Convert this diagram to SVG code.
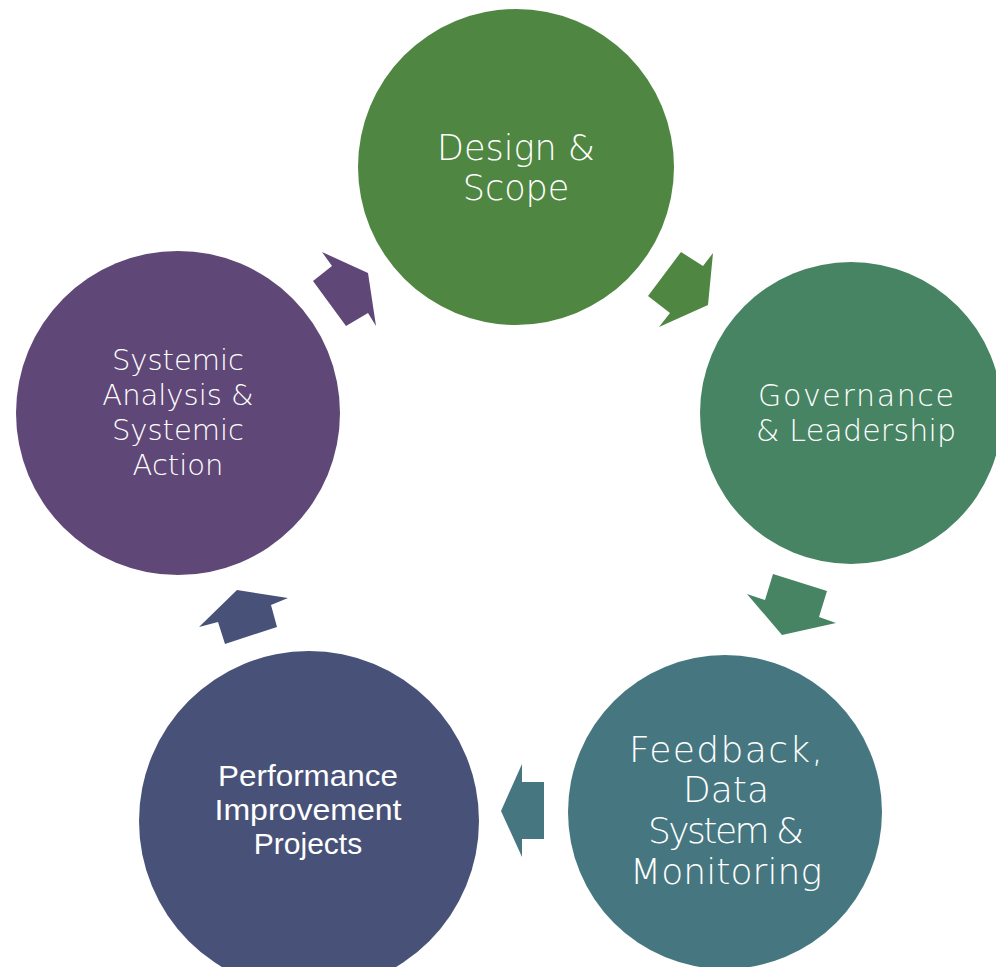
<svg xmlns="http://www.w3.org/2000/svg" width="996" height="967" viewBox="0 0 996 967">
<style>
.t{fill:#fff;font-family:"DejaVu Sans","Liberation Sans",sans-serif;font-weight:200;text-anchor:middle}
.a{fill:#fff;font-family:"Liberation Sans",Arial,sans-serif;text-anchor:middle}
</style>
<rect width="996" height="967" fill="#fff"/>
<g id="connectors">
<polygon fill="#5f4877" points="322,252 368,273 376,326 368,313 346,326 313,281 332,266"/>
<polygon fill="#4f8642" points="681,252 703,266 713,253 708,305 659,327 670,313 648,296"/>
<polygon fill="#478464" points="773,574 827,591 819,617 836,623 782,635 747,594 765,600"/>
<polygon fill="#467780" points="522,764 522,782 544,782 544,839 522,839 522,857 501,811"/>
<polygon fill="#485279" points="237,590 288,598 271,605 277,627 225,644 218,622 199,627"/>
</g>
<g id="design">
<circle cx="516" cy="167" r="158" fill="#4f8642"/>
<text class="t" font-size="35"><tspan x="516" y="160">Design &amp;</tspan><tspan x="516" y="200">Scope</tspan></text>
</g>
<g id="governance">
<circle cx="851" cy="413" r="151" fill="#478464"/>
<text class="t" font-size="30"><tspan x="856" y="406" textLength="196" lengthAdjust="spacing">Governance</tspan><tspan x="856" y="441" textLength="200" lengthAdjust="spacing">&amp; Leadership</tspan></text>
</g>
<g id="feedback">
<circle cx="725" cy="812" r="157" fill="#467780"/>
<text class="t" font-size="36"><tspan x="726" y="762" textLength="194" lengthAdjust="spacing">Feedback,</tspan><tspan x="726" y="802">Data</tspan><tspan x="726" y="843" textLength="156" lengthAdjust="spacing">System &amp;</tspan><tspan x="726" y="884" textLength="192" lengthAdjust="spacing">Monitoring</tspan></text>
</g>
<g id="performance">
<circle cx="309" cy="821" r="170" fill="#485279"/>
<text class="a" font-size="30"><tspan x="308" y="786" textLength="180" lengthAdjust="spacingAndGlyphs">Performance</tspan><tspan x="308" y="820" textLength="187" lengthAdjust="spacingAndGlyphs">Improvement</tspan><tspan x="308" y="854">Projects</tspan></text>
</g>
<g id="systemic">
<circle cx="178" cy="413" r="162" fill="#5f4877"/>
<text class="t" font-size="29"><tspan x="178" y="370">Systemic</tspan><tspan x="178" y="405">Analysis &amp;</tspan><tspan x="178" y="440">Systemic</tspan><tspan x="178" y="475">Action</tspan></text>
</g>
</svg>
